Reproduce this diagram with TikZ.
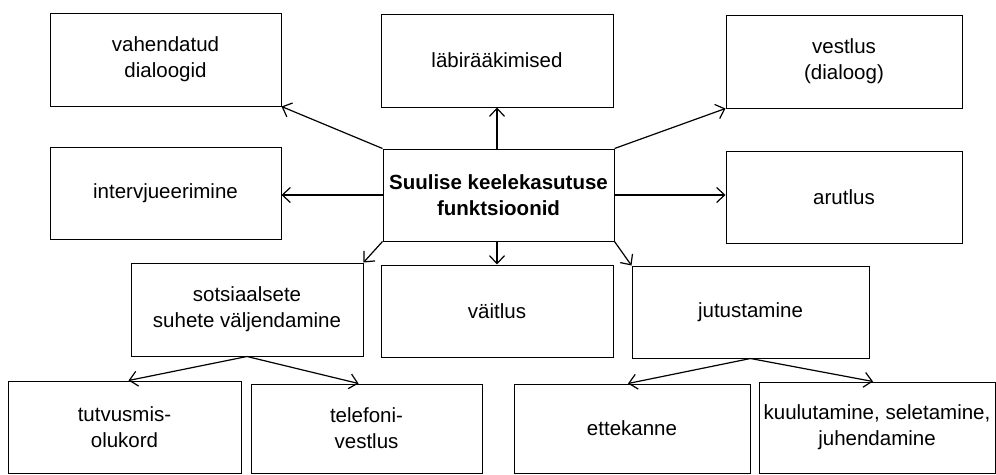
\documentclass[tikz,border=0pt]{standalone}
\usepackage{fontspec}
\setmainfont{Liberation Sans}
\usetikzlibrary{arrows.meta,calc}
\tikzset{
  box/.style={draw, line width=1pt, inner sep=0pt, align=center,
    font=\fontsize{20.5}{26}\selectfont},
  arr/.style={line width=1.2pt, -{Straight Barb[length=8pt,width=15pt,line width=1.2pt]}},
}
\begin{document}
\begin{tikzpicture}[x=1pt,y=-1pt]
\useasboundingbox (0,0) rectangle (996,474);
\fill[white] (0,0) rectangle (996,474);
\node[box, minimum width=231pt, minimum height=93pt] (vah) at (165.5,59.5) {vahendatud\\dialoogid};
\node[box, minimum width=232pt, minimum height=93pt] (lab) at (497,60.5) {läbirääkimised};
\node[box, minimum width=236pt, minimum height=93pt] (ves) at (844,61.5) {vestlus\\(dialoog)};
\node[box, minimum width=231pt, minimum height=92pt] (int) at (165.5,193) {intervjueerimine};
\node[box, minimum width=231pt, minimum height=92pt, font=\fontsize{20.5}{26}\selectfont\bfseries] (cen) at (498.5,195) {Suulise keelekasutuse\\funktsioonid};
\node[box, minimum width=236pt, minimum height=92pt] (aru) at (844,197) {arutlus};
\node[box, minimum width=232pt, minimum height=93pt] (sot) at (247,309.5) {sotsiaalsete\\suhete väljendamine};
\node[box, minimum width=232pt, minimum height=92pt] (vai) at (497,311) {väitlus};
\node[box, minimum width=237pt, minimum height=92pt] (jut) at (750.5,312) {jutustamine};
\node[box, minimum width=233pt, minimum height=92pt] (tut) at (124.5,427) {tutvusmis-\\olukord};
\node[box, minimum width=231pt, minimum height=89pt] (tel) at (366.5,428.5) {telefoni-\\vestlus};
\node[box, minimum width=236pt, minimum height=89pt] (ett) at (632,428.5) {ettekanne};
\node[box, minimum width=236pt, minimum height=91pt] (kuu) at (877,427.5) {kuulutamine, seletamine,\\juhendamine};

\draw[arr] (cen.north west) -- (vah.south east);
\draw[arr] (lab.south |- cen.north) -- (lab.south);
\draw[arr] (cen.north east) -- (ves.south west);
\draw[arr] (cen.west) -- (cen.west -| int.east);
\draw[arr] (cen.east) -- (cen.east -| aru.west);
\draw[arr] (cen.south west) -- (sot.north east);
\draw[arr] (vai.north |- cen.south) -- (vai.north);
\draw[arr] (cen.south east) -- (jut.north west);
\draw[arr] (sot.south) -- ($(tut.north)+(4,0)$);
\draw[arr] (sot.south) -- ($(tel.north)+(-8,0)$);
\draw[arr] (jut.south) -- ($(ett.north)+(-4,0)$);
\draw[arr] (jut.south) -- ($(kuu.north)+(-4,0)$);
\end{tikzpicture}
\end{document}
